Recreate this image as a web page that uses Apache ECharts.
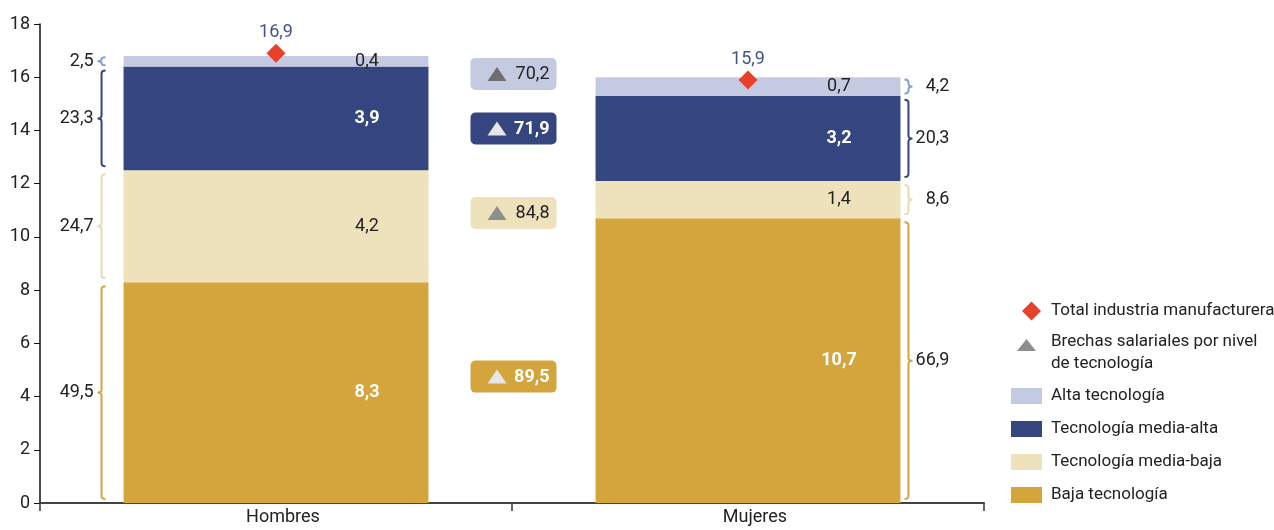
<!DOCTYPE html>
<html><head><meta charset="utf-8">
<script src="https://cdn.jsdelivr.net/npm/echarts@6/dist/echarts.min.js"></script>
<style>html,body{margin:0;padding:0;background:#fff}#c{width:1274px;height:530px}</style>
</head><body><div id="c"></div>
<script>
// ---------- DATA ----------
const categories = ['Hombres', 'Mujeres'];
const levelNames = ['Baja tecnología', 'Tecnología media-baja', 'Tecnología media-alta', 'Alta tecnología'];
const baja = [8.3, 10.7];
const mediaBaja = [4.2, 1.4];
const mediaAlta = [3.9, 3.2];
const alta = [0.4, 0.7];
const totalIndustria = [16.9, 15.9];
// participación (%) por nivel: baja, media-baja, media-alta, alta
const sharesHombres = [49.5, 24.7, 23.3, 2.5];
const sharesMujeres = [66.9, 8.6, 20.3, 4.2];
// brechas salariales por nivel: baja, media-baja, media-alta, alta
const brechas = [89.5, 84.8, 71.9, 70.2];
const totalName = 'Total industria manufacturera';
const brechaName = 'Brechas salariales por nivel de tecnología';

// ---------- STYLE ----------
const FONT = "Roboto,'Liberation Sans',sans-serif";
const FS = 18;
const LFS = 17;
const levelColors = ['#d4a53c', '#eee2bc', '#34457f', '#c5cae3'];
const braceColors = ['#d4a53c', '#e8dbae', '#34457f', '#7ea0d8'];
const badgeTri = ['#e6e6e6', '#8e8e8e', '#e6e6e6', '#6e6e6e'];
const badgeText = ['#ffffff', '#222222', '#ffffff', '#222222'];
const badgeWeight = ['bold', 'normal', 'bold', 'normal'];
const BAR_RATIO = 0.646;
const fmt = v => Number(v).toFixed(1).replace('.', ',');

const segs = [baja, mediaBaja, mediaAlta, alta];

function ranges(ci) {
  let acc = 0; const out = [];
  segs.forEach(a => { out.push([acc, acc + a[ci]]); acc += a[ci]; });
  return out;
}
const rH = ranges(0), rM = ranges(1);
const braceData = [];
rH.forEach((r, s) => braceData.push([0, r[0], r[1], sharesHombres[s], s]));
rM.forEach((r, s) => braceData.push([1, r[0], r[1], sharesMujeres[s], s]));
const badgeData = brechas.map((b, s) => [1, ((rH[s][0] + rH[s][1]) / 2 + (rM[s][0] + rM[s][1]) / 2) / 2, b, s]);

function renderBrace(params, api) {
  const cat = api.value(0), v0 = api.value(1), v1 = api.value(2), share = api.value(3), s = api.value(4);
  const pB = api.coord([cat, v0]), pT = api.coord([cat, v1]);
  const band = api.size([1, 0])[0];
  const half = band * BAR_RATIO / 2;
  const left = cat === 0;
  const x = left ? pB[0] - half - 22 : pB[0] + half + 8;
  const h = pB[1] - pT[1];
  const inset = Math.min(4, h * 0.12);
  const y1 = pT[1] + inset, y2 = pB[1] - inset, ym = (y1 + y2) / 2;
  const d = left ? -1 : 1;
  const hook = 4, tip = 4, r = Math.min(3, (y2 - y1) / 4);
  const path = `M${x - d * hook},${y1} Q${x},${y1} ${x},${y1 + r} L${x},${ym - r} Q${x},${ym} ${x + d * tip},${ym} Q${x},${ym} ${x},${ym + r} L${x},${y2 - r} Q${x},${y2} ${x - d * hook},${y2}`;
  return {
    type: 'group', children: [
      { type: 'path', shape: { pathData: path }, style: { stroke: braceColors[s], lineWidth: 2, fill: null } },
      { type: 'text', style: { text: fmt(share), x: left ? x - 8 : x + 41, y: ym, align: 'right', verticalAlign: 'middle', fill: '#222', fontSize: FS, fontFamily: FONT } }
    ]
  };
}

function renderBadge(params, api) {
  const s = api.value(3);
  const p = api.coord([api.value(0), api.value(1)]);
  const w = 86, h = 32;
  const x0 = p[0] - w / 2 + 1.5, y0 = p[1] - h / 2;
  return {
    type: 'group', children: [
      { type: 'rect', shape: { x: x0, y: y0, width: w, height: h, r: 5 }, style: { fill: levelColors[s] } },
      { type: 'polygon', shape: { points: [[x0 + 17, y0 + 23], [x0 + 26.5, y0 + 9], [x0 + 36, y0 + 23]] }, style: { fill: badgeTri[s] } },
      { type: 'text', style: { text: fmt(api.value(2)), x: x0 + w - 7, y: p[1] + 1, align: 'right', verticalAlign: 'middle', fill: badgeText[s], fontSize: FS, fontWeight: badgeWeight[s], fontFamily: FONT } }
    ]
  };
}

const barSeries = segs.map((arr, s) => ({
  name: levelNames[s], type: 'bar', stack: 'total', barWidth: (BAR_RATIO * 100) + '%',
  data: arr, itemStyle: { color: levelColors[s] },
  label: {
    show: true, position: 'inside', offset: [91, 0], formatter: p => fmt(p.value),
    fontSize: FS, fontFamily: FONT,
    color: (s === 0 || s === 2) ? '#ffffff' : '#222222',
    fontWeight: (s === 0 || s === 2) ? 'bold' : 'normal'
  },
  z: 2
}));

const chart = echarts.init(document.getElementById('c'), null, { renderer: 'canvas' });
chart.setOption({
  animation: false,
  textStyle: { fontFamily: FONT },
  grid: { left: 40, right: 290, top: 24, bottom: 27, containLabel: false, outerBoundsMode: 'none' },
  xAxis: [{
    type: 'category', data: categories,
    axisLine: { lineStyle: { color: '#444', width: 2 } },
    axisTick: { show: true, length: 8, lineStyle: { color: '#333', width: 1.5 } },
    axisLabel: { fontSize: FS, color: '#222', margin: 5, fontFamily: FONT, padding: [0, 0, 0, 14] }
  }, {
    type: 'value', min: 0, max: 2, show: false
  }],
  yAxis: {
    type: 'value', min: 0, max: 18, interval: 2,
    axisLine: { show: true, lineStyle: { color: '#111', width: 1.5 } },
    axisTick: { show: true, length: 6, lineStyle: { color: '#111' } },
    axisLabel: { fontSize: FS, color: '#222', margin: 10, fontFamily: FONT },
    splitLine: { show: false }
  },
  legend: [{
    data: [{ name: totalName, icon: 'diamond' }],
    left: 1022, top: 300, padding: 0, orient: 'vertical', itemWidth: 19, itemHeight: 19,
    textStyle: { fontSize: LFS, color: '#222', fontFamily: FONT, lineHeight: 22, padding: [0, 0, 0, 5] },
    selectedMode: false
  }, {
    data: [{ name: brechaName, icon: 'path://M0,12L9.5,0L19,12Z' }],
    left: 1017, top: 318, padding: 0, orient: 'vertical', itemWidth: 19, itemHeight: 12,
    formatter: () => '{s| }\n{a|Brechas salariales por nivel}\n{a|de tecnología}',
    textStyle: {
      fontSize: LFS, color: '#222', fontFamily: FONT, padding: [0, 0, 0, 10],
      rich: { s: { lineHeight: 16, fontSize: 10 }, a: { lineHeight: 22, fontSize: LFS, color: '#222', fontFamily: FONT } }
    },
    selectedMode: false
  }, {
    data: ['Alta tecnología', 'Tecnología media-alta', 'Tecnología media-baja', 'Baja tecnología'],
    left: 1011, top: 385, padding: 0, orient: 'vertical', itemWidth: 31, itemHeight: 16, itemGap: 11, icon: 'rect',
    textStyle: { fontSize: LFS, color: '#222', fontFamily: FONT, lineHeight: 22, padding: [0, 0, 0, 4] },
    selectedMode: false
  }],
  series: [
    ...barSeries,
    {
      name: 'braces', type: 'custom', xAxisIndex: 0, yAxisIndex: 0,
      renderItem: renderBrace, data: braceData, z: 3, silent: true
    },
    {
      name: brechaName, type: 'custom', xAxisIndex: 1, yAxisIndex: 0,
      renderItem: renderBadge, data: badgeData, z: 3, itemStyle: { color: '#8e8e8e' }, silent: true
    },
    {
      name: totalName, type: 'scatter', symbol: 'diamond', symbolSize: 19,
      data: totalIndustria, itemStyle: { color: '#e8402a', opacity: 1 }, z: 5,
      label: { show: true, position: 'top', distance: 2, formatter: p => fmt(p.value), color: '#44528f', fontSize: FS, fontFamily: FONT }
    }
  ]
});
</script></body></html>
